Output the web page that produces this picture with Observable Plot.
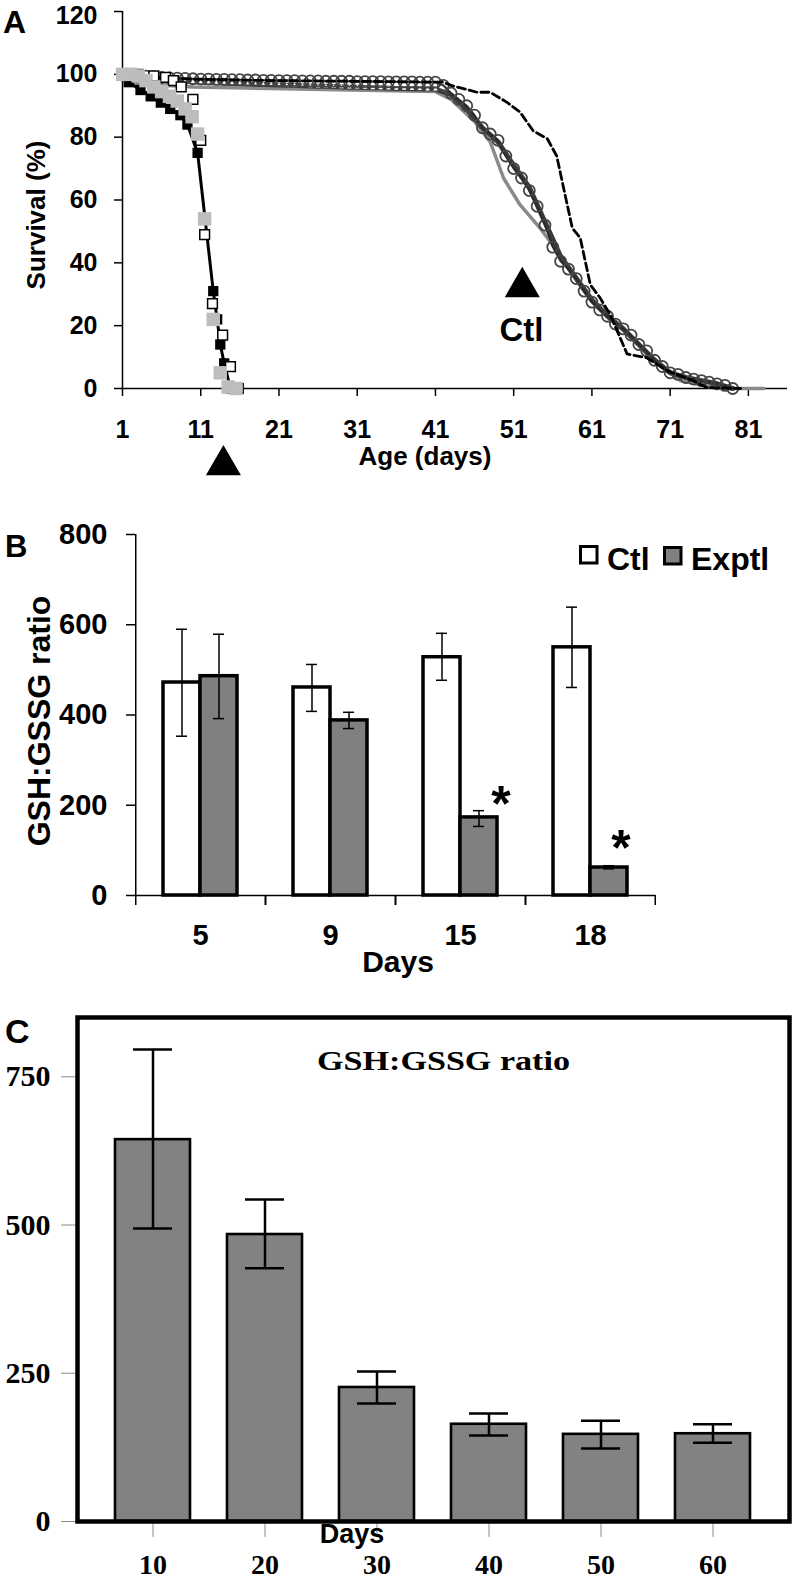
<!DOCTYPE html>
<html><head><meta charset="utf-8">
<script src="https://cdn.jsdelivr.net/npm/d3@7"></script>
<script src="https://cdn.jsdelivr.net/npm/@observablehq/plot@0.6"></script>
<style>
html,body{margin:0;padding:0;background:#fff;}
#wrap{position:relative;width:792px;height:1580px;overflow:hidden;background:#fff;}
#wrap svg{position:absolute;left:0;}
</style></head><body><div id="wrap"></div>
<script>
const FONT = '"Liberation Sans", Arial, Helvetica, sans-serif';
const SERIF = '"Liberation Serif", "Times New Roman", serif';

// ---------------- Panel A data ----------------
const ageTicks = [1, 11, 21, 31, 41, 51, 61, 71, 81];
const survTicks = [0, 20, 40, 60, 80, 100, 120];

const exptBlackDays = [1, 1.8, 3.3, 4.6, 5.9, 7.1, 8.4, 9.3, 10.6, 12.6, 13.1, 13.5, 14, 14.8, 15.7];
const exptBlackSurv = [100, 97.5, 95, 93, 91, 89, 87, 84, 75, 31, 22, 14, 8, 0, 0];

const exptGrayDays = [1, 2, 3, 4, 5, 6, 7, 8, 9, 9.9, 10.6, 11.5, 12.6, 13.5, 14.5, 15.5];
const exptGraySurv = [100, 100, 99.5, 98, 96, 94.5, 93, 91.5, 89, 86.5, 81, 54, 22, 5, 0.5, 0];

const exptOpenDays = [1, 3, 5, 6.5, 7.5, 8.5, 10, 11, 11.5, 12.5, 13.8, 14.8, 15.8];
const exptOpenSurv = [100, 100, 99.5, 99, 98, 96, 92, 79, 49, 27, 17, 7, 0];

const ctlCircDays = [1,2,3,4,5,6,7,8,9,10,11,12,13,14,15,16,17,18,19,20,21,22,23,24,25,26,27,28,29,30,31,32,33,34,35,36,37,38,39,40,41,
  42,43,44,45,46,47,48,49,50,51,52,53,54,55,56,57,58,59,60,61,62,63,64,65,66,67,68,69,70,71,72,73,74,75,76,77,78,79];
const ctlCircSurv = [100,99.8,99.6,99.4,99.2,99,98.9,98.8,98.7,98.6,98.5,98.5,98.4,98.4,98.3,98.3,98.2,98.2,98.1,98.1,
  98,98,98,97.9,97.9,97.9,97.8,97.8,97.8,97.8,97.7,97.7,97.7,97.7,97.6,97.6,97.6,97.6,97.5,97.5,97.5,
  96.5,94,92,90,87,83,81,79,74,70,67,63,58,52,45,40.5,38,35,31,27.5,25,23,20.5,19,17,14,12,9,7,5,4.5,3.5,3,2.5,2,1.5,1,0];

const ctlTriDays = [1,2,3,4,5,6,7,8,9,10,11,12,13,14,15,16,17,18,19,20,21,22,23,24,25,26,27,28,29,30,31,32,33,34,35,36,37,38,39,40,41,
  43,45,47,49,51,53,55,57,59,61,63,65,67,69,71,73,75,77,79];
const ctlTriSurv = [98.5,98.4,98.3,98.2,98.1,98,97.9,97.8,97.7,97.6,97.5,97.4,97.3,97.2,97.1,97,96.9,96.8,96.8,96.7,
  96.6,96.5,96.5,96.4,96.3,96.2,96.2,96.1,96,95.9,95.9,95.8,95.7,95.7,95.6,95.5,95.5,95.4,95.4,95.3,95.3,
  93.5,89,83,78.5,71,64,53,42,35,28,23,19,14,9,5,3.5,2.5,1.5,0];

const ctlGrayDays = [1, 3, 10, 20, 30, 41, 43, 46, 48, 49.7, 51.8, 54.4, 57.8, 61.2, 64.6, 68.8, 72.3, 76.5, 79, 83];
const ctlGraySurv = [99, 97, 96, 95.5, 95, 94.5, 92, 85, 78.5, 67, 58.5, 51, 39.5, 28, 19.4, 9.8, 2.5, 0.3, 0, 0];

const ctlDashDays = [1, 10, 20, 30, 42, 43, 46.3, 48, 50.2, 51.8, 53.5, 55.3, 56.5, 57.4, 58.5, 59.5, 60.8, 62, 63.3, 65.5, 68, 70.6, 73.9, 75.7, 80];
const ctlDashSurv = [99.5, 98.5, 98, 97.8, 97.5, 96.5, 94.3, 94.3, 91, 88, 82, 79.5, 74, 63.6, 51, 48, 33, 29, 23.7, 11, 9.8, 5.7, 2.5, 0.3, 0];

// arrow annotations (day, survival)
const arrowDays = [13.9, 52.1];
const arrowSurv = [-24.4, 32.3];
const ctlLabel = "Ctl";
const ctlLabelDay = 52;
const ctlLabelSurv = 18.5;

// ---------------- Panel B data ----------------
const bDays = ["5", "9", "15", "18"];
const bGroups = ["Ctl", "Exptl"];
const bCtl = [472, 461, 528, 550];
const bCtlLo = [353, 408, 477, 461];
const bCtlHi = [590, 512, 581, 639];
const bExp = [486, 388, 173, 62];
const bExpLo = [392, 370, 153, 59];
const bExpHi = [579, 406, 188, 66];
const bTicks = [0, 200, 400, 600, 800];

// ---------------- Panel C data ----------------
const cDays = ["10", "20", "30", "40", "50", "60"];
const cMean = [644, 484, 226, 164, 147, 148];
const cLo = [494, 427, 199, 145, 123, 133];
const cHi = [796, 543, 253, 182, 170, 164];
const cTicks = [0, 250, 500, 750];

// ---------------- build ----------------
const wrap = document.getElementById("wrap");
const rows = (days, surv) => days.map((d, i) => ({day: d, surv: surv[i]}));
const blackRows = rows(exptBlackDays, exptBlackSurv);
const grayRows = rows(exptGrayDays, exptGraySurv);
const openRows = rows(exptOpenDays, exptOpenSurv);
const circRows = rows(ctlCircDays, ctlCircSurv);
const triRows = rows(ctlTriDays, ctlTriSurv);
const cgRows = rows(ctlGrayDays, ctlGraySurv);
const dashRows = rows(ctlDashDays, ctlDashSurv);
const arrowRows = rows(arrowDays, arrowSurv);
const topTick = survTicks[survTicks.length - 1];

const plotA = Plot.plot({
  width: 792, height: 478,
  marginLeft: 122, marginRight: 5, marginTop: 9, marginBottom: 92,
  style: {fontFamily: FONT, fontWeight: "bold", fontSize: "25px", background: "transparent", color: "#000", overflow: "visible"},
  x: {domain: [1, 86], axis: null},
  y: {domain: [0, 120], axis: null},
  marks: [
    Plot.axisY({ticks: survTicks, tickSize: 8, tickPadding: 17, label: null, strokeWidth: 1.5,
      tickFormat: d => (d === topTick ? "" : d)}),
    Plot.axisY({ticks: [topTick], tickSize: 0, tickPadding: 25, label: null, dy: 4}),
    Plot.axisX({ticks: ageTicks, tickSize: 8, tickPadding: 24, label: null, strokeWidth: 1.5}),
    Plot.ruleX([1], {y1: 0, y2: 120, strokeWidth: 1.5}),
    Plot.ruleY([0], {x1: 1, x2: 86, strokeWidth: 1.5}),
    Plot.line(cgRows, {x: "day", y: "surv", stroke: "#8a8a8a", strokeWidth: 3.5}),
    Plot.line(triRows, {x: "day", y: "surv", stroke: "#3a3a3a", strokeWidth: 5}),
    Plot.dot(triRows, {x: "day", y: "surv", filter: d => d.day <= 41, symbol: "triangle", r: 1.7, fill: "#fff", stroke: "none"}),
    Plot.line(circRows, {x: "day", y: "surv", stroke: "#2a2a2a", strokeWidth: 2}),
    Plot.dot(circRows, {x: "day", y: "surv", r: 5.5, stroke: "#454545", strokeWidth: 1.8, fill: "none"}),
    Plot.line(dashRows, {x: "day", y: "surv", stroke: "#000", strokeWidth: 2.8, strokeDasharray: "8,4"}),
    Plot.line(blackRows, {x: "day", y: "surv", stroke: "#000", strokeWidth: 3}),
    Plot.dot(blackRows, {x: "day", y: "surv", symbol: "square", r: 5.8, fill: "#000", stroke: "none"}),
    Plot.dot(openRows, {x: "day", y: "surv", symbol: "square", r: 5.5, fill: "#fff", stroke: "#000", strokeWidth: 1.5}),
    Plot.dot(grayRows, {x: "day", y: "surv", symbol: "square", r: 7.6, fill: "#bdbdbd", stroke: "none"}),
    Plot.dot(arrowRows, {x: "day", y: "surv", symbol: "triangle", r: 13, fill: "#000", stroke: "none"}),
    Plot.text([{day: ctlLabelDay, surv: ctlLabelSurv, label: ctlLabel}], {x: "day", y: "surv", text: "label", fontSize: 33})
  ]
});
plotA.style.top = "2px";
wrap.appendChild(plotA);

// Panel B
const rowsB = [];
bDays.forEach((d, i) => {
  rowsB.push({day: d, group: "Ctl", value: bCtl[i], lo: bCtlLo[i], hi: bCtlHi[i]});
  rowsB.push({day: d, group: "Exptl", value: bExp[i], lo: bExpLo[i], hi: bExpHi[i]});
});
const sig15 = rowsB.filter(r => r.group === "Exptl" && r.day === "15");
const sig18 = rowsB.filter(r => r.group === "Exptl" && r.day === "18");

const plotB = Plot.plot({
  width: 792, height: 500,
  marginLeft: 135, marginRight: 137, marginTop: 54, marginBottom: 85,
  style: {fontFamily: FONT, fontWeight: "bold", fontSize: "29px", background: "transparent", color: "#000"},
  fx: {domain: bDays, padding: 0, axis: null},
  x: {domain: bGroups, paddingInner: 0, paddingOuter: 0.733, axis: null},
  y: {domain: [0, 800], axis: null},
  color: {domain: bGroups, range: ["#ffffff", "#808080"]},
  marks: [
    Plot.axisY({ticks: bTicks, tickSize: 9, tickPadding: 19, label: null, strokeWidth: 1.5}),
    Plot.axisFx({anchor: "bottom", tickSize: 0, tickPadding: 29, label: null}),
    Plot.barY(rowsB, {fx: "day", x: "group", y: "value", fill: "group", stroke: "#000", strokeWidth: 3.5}),
    Plot.ruleY([0], {strokeWidth: 1.5}),
    Plot.ruleX([{day: "5", group: "Ctl"}], {fx: "day", x: "group", y1: 0, y2: 800, dx: -46.25, strokeWidth: 1.5}),
    Plot.ruleX(["Ctl"], {x: d => d, y1: 0, y2: -22, dx: -46.25, strokeWidth: 1.5}),
    Plot.ruleX(["Exptl"], {x: d => d, y1: 0, y2: -22, dx: 46.25, strokeWidth: 1.5}),
    Plot.ruleX(rowsB, {fx: "day", x: "group", y1: "lo", y2: "hi", strokeWidth: 1.5}),
    Plot.tickY(rowsB, {fx: "day", x: "group", y: "lo", insetLeft: 13, insetRight: 13, strokeWidth: 1.5}),
    Plot.tickY(rowsB, {fx: "day", x: "group", y: "hi", insetLeft: 13, insetRight: 13, strokeWidth: 1.5}),
    Plot.text(sig15, {fx: "day", x: "group", y: "hi", text: () => "*", dx: 22, dy: -6, fontSize: 50}),
    Plot.text(sig18, {fx: "day", x: "group", y: "hi", text: () => "*", dx: 12, dy: -17, fontSize: 50})
  ]
});
plotB.style.top = "480px";
wrap.appendChild(plotB);

// Panel C
const rowsC = cDays.map((d, i) => ({day: d, value: cMean[i], lo: cLo[i], hi: cHi[i]}));
const plotC = Plot.plot({
  width: 792, height: 600,
  marginLeft: 77, marginRight: 3, marginTop: 37, marginBottom: 59,
  style: {fontFamily: SERIF, fontWeight: "bold", fontSize: "30px", background: "transparent", color: "#000"},
  x: {domain: cDays, paddingInner: 0.33, paddingOuter: 0.317, axis: null},
  y: {domain: [0, 850], axis: null},
  marks: [
    Plot.axisY({ticks: cTicks, tickSize: 16, tickPadding: 11, label: null, stroke: "#8a8a8a", strokeWidth: 1, fill: "#000"}),
    Plot.axisX({tickSize: 16, tickPadding: 17, label: null, stroke: "#8a8a8a", strokeWidth: 1, fill: "#000", fontSize: 28}),
    Plot.barY(rowsC, {x: "day", y: "value", fill: "#828282", stroke: "#000", strokeWidth: 2.6}),
    Plot.ruleX(rowsC, {x: "day", y1: "lo", y2: "hi", strokeWidth: 2.5}),
    Plot.tickY(rowsC, {x: "day", y: "lo", insetLeft: 18, insetRight: 18, strokeWidth: 2.5}),
    Plot.tickY(rowsC, {x: "day", y: "hi", insetLeft: 18, insetRight: 18, strokeWidth: 2.5}),
    Plot.frame({stroke: "#000", strokeWidth: 4.5})
  ]
});
plotC.style.top = "980px";
wrap.appendChild(plotC);

// Overlay text (titles, panel letters, legend)
const ov = d3.select(wrap).append("svg")
  .attr("width", 792).attr("height", 1580)
  .style("position", "absolute").style("left", "0px").style("top", "0px")
  .style("pointer-events", "none");
function txt(s, x, y, o = {}) {
  const t = ov.append("text").text(s)
    .attr("font-family", o.family || FONT).attr("font-weight", "bold")
    .attr("font-size", o.size).attr("text-anchor", o.anchor || "start").attr("fill", "#000");
  if (o.rotate) t.attr("transform", `translate(${x},${y}) rotate(${o.rotate})`);
  else t.attr("x", x).attr("y", y);
  if (o.length) t.attr("textLength", o.length).attr("lengthAdjust", "spacingAndGlyphs");
  return t;
}
// Panel letters
txt("A", 3, 33, {size: 32});
txt("B", 5, 557, {size: 31});
txt("C", 5, 1043, {size: 34});
// Panel A titles
txt("Survival (%)", 45, 215, {size: 26, anchor: "middle", rotate: -90});
txt("Age (days)", 425, 465, {size: 26, anchor: "middle"});
// Panel B titles
txt("GSH:GSSG ratio", 50, 721, {size: 32, anchor: "middle", rotate: -90});
txt("Days", 398, 972, {size: 30, anchor: "middle"});
// Panel B legend
ov.append("rect").attr("x", 580.5).attr("y", 546.5).attr("width", 16.5).attr("height", 16.5)
  .attr("fill", "#fff").attr("stroke", "#000").attr("stroke-width", 3);
txt(bGroups[0], 607, 570, {size: 32});
ov.append("rect").attr("x", 664.5).attr("y", 547.5).attr("width", 16.5).attr("height", 16.5)
  .attr("fill", "#808080").attr("stroke", "#000").attr("stroke-width", 3);
txt(bGroups[1], 691, 570, {size: 32});
// Panel C titles
txt("GSH:GSSG ratio", 317, 1070, {size: 28, family: SERIF, length: 253});
txt("Days", 352, 1543, {size: 27, anchor: "middle"});
</script>
</body></html>
